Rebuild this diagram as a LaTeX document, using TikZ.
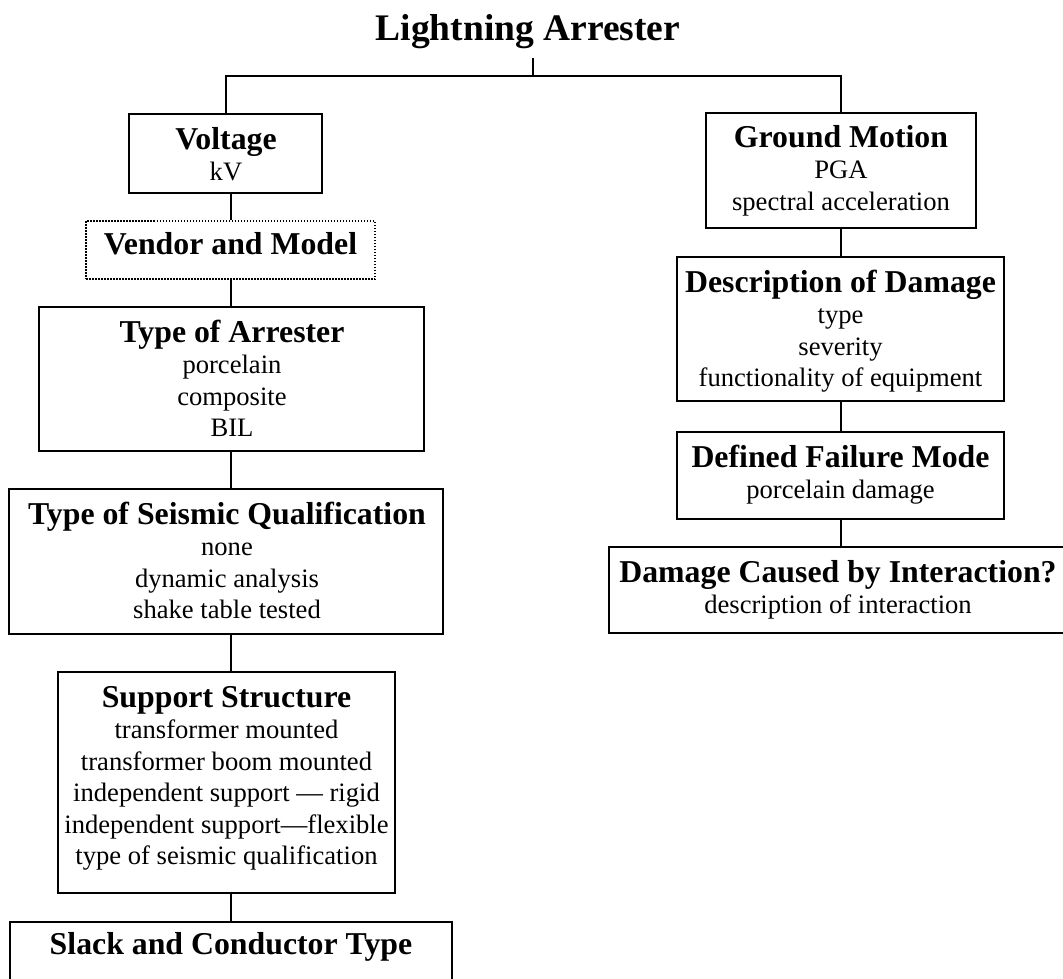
\documentclass[tikz,border=0pt]{standalone}
\usepackage{fontspec}
\setmainfont{Liberation Serif}
\newcommand\bodyfont{\fontsize{26.6}{31.5}\selectfont}
\newcommand\hd[1]{{\fontsize{31.8}{31.5}\selectfont\bfseries #1}}
\tikzset{
  box/.style={draw, line width=1.7pt, inner sep=0pt, rectangle},
  dotbox/.style={box, line width=1.5pt, dash pattern=on 1.5pt off 1.5pt},
  txt/.style={align=center, inner sep=0pt, anchor=base, font=\bodyfont},
  conn/.style={line width=1.6pt},
}
\begin{document}
\begin{tikzpicture}[x=1pt,y=-1pt]
\useasboundingbox (0,0) rectangle (1063,978);
% title
\node[inner sep=0pt, anchor=base, font=\fontsize{37.5}{37.5}\selectfont\bfseries] (title) at (528,40) {Lightning Arrester};
\coordinate (jTop) at (533,58);
\coordinate (jT) at (533,76);
\coordinate (jL) at (226,76);
\coordinate (jR) at (841,76);
\coordinate (lc) at (231,0);
% left column boxes
\node[box, minimum width=193pt, minimum height=79pt] (volt) at (225.5,153.5) {};
\node[dotbox, minimum width=289pt, minimum height=58pt] (vend) at (230.5,250) {};
\node[box, minimum width=385pt, minimum height=144pt] (arr) at (231.5,379) {};
\node[box, minimum width=434pt, minimum height=145pt] (tsq) at (226,561.5) {};
\node[box, minimum width=337pt, minimum height=221pt] (supp) at (226.5,782.5) {};
\node[box, minimum width=442pt, minimum height=78pt] (slack) at (231,961) {};
% right column boxes
\node[box, minimum width=270pt, minimum height=115pt] (ground) at (841,170.5) {};
\node[box, minimum width=327pt, minimum height=144pt] (desc) at (840.5,329) {};
\node[box, minimum width=327pt, minimum height=87pt] (dfm) at (840.5,475.5) {};
\node[box, minimum width=458pt, minimum height=86pt] (dci) at (838,590) {};
% texts (anchor = baseline of the last line)
\node[txt] (voltT) at (226,180.5) {\hd{Voltage}\\kV};
\node[txt] (vendT) at (230.5,254) {\hd{Vendor and Model}};
\node[txt] (arrT) at (232,436.5) {\hd{Type of Arrester}\\porcelain\\composite\\BIL};
\node[txt] (tsqT) at (227,618.5) {\hd{Type of Seismic Qualification}\\none\\dynamic analysis\\shake table tested};
\node[txt] (suppT) at (226.5,864.5) {\hd{Support Structure}\\transformer mounted\\transformer boom mounted\\independent support --- rigid\\independent support---flexible\\type of seismic qualification};
\node[txt] (slackT) at (231,954) {\hd{Slack and Conductor Type}};
\node[txt] (groundT) at (841,210) {\hd{Ground Motion}\\PGA\\spectral acceleration};
\node[txt] (descT) at (840.5,386.5) {\hd{Description of Damage}\\type\\severity\\functionality of equipment};
\node[txt] (dfmT) at (840.5,498.5) {\hd{Defined Failure Mode}\\porcelain damage};
\node[txt] (dciT) at (838,613.5) {\hd{Damage Caused by Interaction?}\\description of interaction};
% connectors
\draw[conn] (jTop) -- (jT);
\draw[conn] (jL |- volt.north) -- (jL) -- (jR) -- (jR |- ground.north);
\draw[conn] (lc |- volt.south) -- (lc |- vend.north);
\draw[conn] (lc |- vend.south) -- (lc |- arr.north);
\draw[conn] (lc |- arr.south) -- (lc |- tsq.north);
\draw[conn] (lc |- tsq.south) -- (lc |- supp.north);
\draw[conn] (lc |- supp.south) -- (lc |- slack.north);
\draw[conn] (jR |- ground.south) -- (jR |- desc.north);
\draw[conn] (jR |- desc.south) -- (jR |- dfm.north);
\draw[conn] (jR |- dfm.south) -- (jR |- dci.north);
\end{tikzpicture}
\end{document}
